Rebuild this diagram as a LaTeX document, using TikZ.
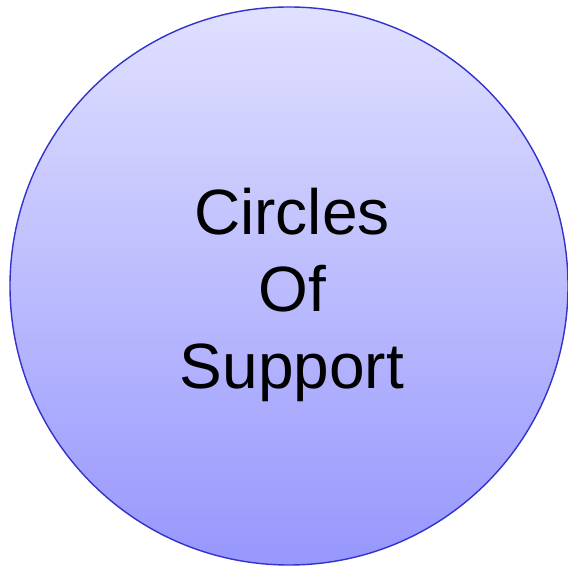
\documentclass[tikz,border=0pt]{standalone}
\usepackage{fontspec}
\setmainfont{Liberation Sans}
\usetikzlibrary{positioning}

\definecolor{circtop}{HTML}{E0E0FF}
\definecolor{circbot}{HTML}{9797FD}
\definecolor{circline}{HTML}{3232CC}

\begin{document}
\begin{tikzpicture}[
  x=1pt, y=1pt,
  support/.style ={circle, draw=circline, line width=1.4pt,
                   top color=circtop, bottom color=circbot,
                   minimum size=558pt, inner sep=0pt},
  title/.style   ={align=center, text=black,
                   font=\fontsize{64}{77}\selectfont}
]
\useasboundingbox (0,0) rectangle (567,569);

% ---- The one circle ----------------------------------------------------------
\node[support] (circ) at (289,283) {};

% ---- Label -------------------------------------------------------------------
\node[title] (lbl) at (292,274) {Circles\\Of\\Support};

\end{tikzpicture}
\end{document}
